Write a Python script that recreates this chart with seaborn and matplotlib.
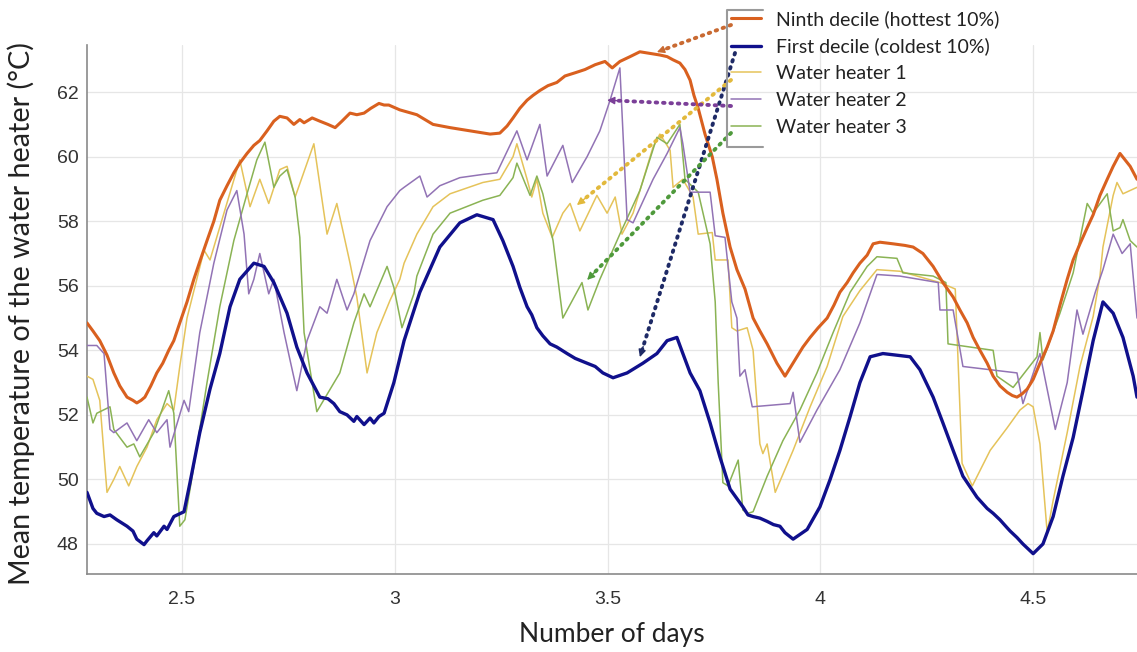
import numpy as np
import pandas as pd
import matplotlib
matplotlib.use("Agg")
import matplotlib.pyplot as plt
from matplotlib.lines import Line2D
import seaborn as sns

# ---------------- data ----------------
ninth_x = [2.277, 2.291, 2.307, 2.324, 2.340, 2.354, 2.371, 2.385, 2.394, 2.404, 2.413, 2.427, 2.441, 2.455,
           2.469, 2.481, 2.495, 2.512, 2.528, 2.542, 2.559, 2.575, 2.589, 2.606, 2.622, 2.636, 2.653, 2.669,
           2.683, 2.700, 2.716, 2.730, 2.747, 2.763, 2.777, 2.787, 2.806, 2.824, 2.843, 2.860, 2.876, 2.895,
           2.911, 2.928, 2.944, 2.963, 2.975, 2.986, 3.012, 3.052, 3.090, 3.130, 3.177, 3.224, 3.247, 3.264,
           3.278, 3.294, 3.311, 3.325, 3.341, 3.360, 3.381, 3.400, 3.424, 3.447, 3.471, 3.494, 3.511, 3.529,
           3.553, 3.576, 3.600, 3.623, 3.640, 3.654, 3.670, 3.682, 3.694, 3.703, 3.713, 3.729, 3.746, 3.757,
           3.771, 3.788, 3.804, 3.823, 3.842, 3.858, 3.875, 3.898, 3.917, 3.931, 3.945, 3.959, 3.976, 3.995,
           4.016, 4.032, 4.046, 4.063, 4.077, 4.093, 4.110, 4.124, 4.140, 4.171, 4.199, 4.218, 4.241, 4.265,
           4.288, 4.312, 4.328, 4.345, 4.359, 4.375, 4.392, 4.406, 4.422, 4.439, 4.451, 4.462, 4.474, 4.486,
           4.500, 4.516, 4.533, 4.547, 4.563, 4.580, 4.594, 4.610, 4.627, 4.641, 4.657, 4.674, 4.688, 4.704,
           4.716, 4.728, 4.744]
ninth_y = [54.85, 54.6, 54.3, 53.85, 53.3, 52.9, 52.55, 52.45, 52.37, 52.45, 52.55, 52.9, 53.3, 53.6,
           54.0, 54.3, 54.85, 55.5, 56.2, 56.75, 57.4, 58.0, 58.65, 59.1, 59.5, 59.8, 60.1, 60.35,
           60.5, 60.8, 61.1, 61.25, 61.2, 61.0, 61.15, 61.05, 61.2, 61.1, 61.0, 60.9, 61.1, 61.35,
           61.3, 61.35, 61.5, 61.65, 61.6, 61.6, 61.45, 61.3, 61.0, 60.9, 60.8, 60.7, 60.73, 60.95,
           61.2, 61.5, 61.75, 61.9, 62.05, 62.2, 62.3, 62.5, 62.6, 62.7, 62.85, 62.95, 62.75, 62.95,
           63.1, 63.25, 63.2, 63.15, 63.1, 63.0, 62.9, 62.7, 62.37, 61.9, 61.5, 60.7, 60.0, 59.3,
           58.25, 57.2, 56.5, 55.9, 55.0, 54.6, 54.2, 53.6, 53.2, 53.5, 53.8, 54.1, 54.4, 54.7,
           55.0, 55.4, 55.8, 56.1, 56.4, 56.7, 56.95, 57.3, 57.35, 57.3, 57.25, 57.2, 57.0, 56.6,
           56.1, 55.65, 55.25, 54.85, 54.4, 54.0, 53.6, 53.2, 52.9, 52.7, 52.6, 52.55, 52.65, 52.8,
           53.1, 53.6, 54.1, 54.6, 55.4, 56.2, 56.8, 57.3, 57.8, 58.2, 58.8, 59.3, 59.7, 60.1,
           59.9, 59.7, 59.3]

first_x = [2.277, 2.291, 2.300, 2.317, 2.331, 2.347, 2.371, 2.385, 2.394, 2.411, 2.418, 2.434, 2.441, 2.458,
           2.465, 2.481, 2.505, 2.519, 2.542, 2.566, 2.589, 2.613, 2.636, 2.669, 2.693, 2.716, 2.747, 2.770,
           2.794, 2.810, 2.824, 2.843, 2.857, 2.871, 2.888, 2.904, 2.911, 2.928, 2.942, 2.951, 2.963, 2.975,
           2.998, 3.022, 3.059, 3.106, 3.153, 3.193, 3.231, 3.254, 3.278, 3.294, 3.311, 3.322, 3.334, 3.348,
           3.365, 3.381, 3.405, 3.424, 3.452, 3.471, 3.489, 3.513, 3.546, 3.583, 3.616, 3.640, 3.663, 3.677,
           3.694, 3.717, 3.741, 3.764, 3.788, 3.818, 3.830, 3.842, 3.858, 3.875, 3.890, 3.905, 3.917, 3.936,
           3.969, 3.999, 4.023, 4.046, 4.070, 4.093, 4.117, 4.147, 4.211, 4.234, 4.265, 4.288, 4.312, 4.335,
           4.368, 4.392, 4.406, 4.422, 4.439, 4.446, 4.462, 4.476, 4.488, 4.500, 4.523, 4.547, 4.570, 4.594,
           4.617, 4.641, 4.664, 4.688, 4.711, 4.735, 4.744]
first_y = [49.6, 49.1, 48.95, 48.85, 48.9, 48.75, 48.55, 48.4, 48.15, 47.98, 48.1, 48.35, 48.25, 48.55,
           48.45, 48.85, 49.0, 49.9, 51.45, 52.8, 53.9, 55.35, 56.2, 56.7, 56.6, 56.1, 55.15, 54.1,
           53.3, 52.9, 52.55, 52.5, 52.35, 52.1, 52.0, 51.8, 51.95, 51.7, 51.9, 51.75, 51.95, 52.05,
           53.0, 54.3, 55.8, 57.2, 57.95, 58.2, 58.05, 57.4, 56.6, 55.95, 55.35, 55.1, 54.7, 54.45,
           54.2, 54.1, 53.9, 53.75, 53.6, 53.5, 53.3, 53.15, 53.3, 53.6, 53.9, 54.3, 54.4, 53.9,
           53.3, 52.75, 51.75, 50.7, 49.7, 49.15, 48.9, 48.85, 48.8, 48.7, 48.6, 48.55, 48.35, 48.15,
           48.45, 49.15, 50.0, 50.9, 51.95, 53.0, 53.8, 53.9, 53.8, 53.4, 52.55, 51.75, 50.9, 50.1,
           49.45, 49.1, 48.95, 48.75, 48.5, 48.4, 48.2, 48.0, 47.85, 47.7, 48.0, 48.85, 50.1, 51.3,
           52.75, 54.3, 55.5, 55.15, 54.4, 53.2, 52.55]

wh1_x = [2.277, 2.291, 2.307, 2.324, 2.340, 2.354, 2.375, 2.394, 2.418, 2.441, 2.465, 2.481, 2.495, 2.512,
         2.552, 2.566, 2.636, 2.660, 2.683, 2.704, 2.730, 2.747, 2.766, 2.810, 2.841, 2.864, 2.895, 2.911,
         2.935, 2.958, 2.989, 3.012, 3.022, 3.052, 3.090, 3.130, 3.207, 3.247, 3.278, 3.287, 3.311, 3.322,
         3.334, 3.348, 3.370, 3.395, 3.412, 3.435, 3.475, 3.499, 3.518, 3.534, 3.560, 3.607, 3.623, 3.647,
         3.654, 3.677, 3.701, 3.713, 3.746, 3.753, 3.783, 3.792, 3.804, 3.828, 3.842, 3.858, 3.865, 3.875,
         3.894, 3.936, 3.976, 4.016, 4.053, 4.093, 4.133, 4.187, 4.281, 4.317, 4.333, 4.357, 4.399, 4.439,
         4.469, 4.488, 4.500, 4.516, 4.533, 4.547, 4.580, 4.610, 4.641, 4.657, 4.664, 4.688, 4.697, 4.711,
         4.744]
wh1_y = [53.2, 53.1, 52.45, 49.6, 50.0, 50.4, 49.8, 50.4, 51.0, 51.85, 52.35, 52.15, 53.5, 55.0,
         57.1, 56.8, 59.9, 58.45, 59.3, 58.55, 59.6, 59.7, 58.75, 60.4, 57.6, 58.55, 56.7, 55.65,
         53.3, 54.55, 55.55, 56.2, 56.7, 57.6, 58.45, 58.85, 59.2, 59.3, 60.0, 60.4, 59.3, 58.75,
         59.3, 58.25, 57.5, 58.25, 58.55, 57.7, 58.8, 58.25, 58.75, 57.6, 58.25, 60.3, 60.7, 60.2,
         59.05, 59.3, 58.75, 57.6, 57.65, 56.8, 56.8, 54.7, 54.6, 54.7, 54.0, 51.1, 50.8, 51.1,
         49.6, 50.9, 52.25, 53.5, 55.05, 55.85, 56.5, 56.45, 56.1, 55.9, 50.5, 49.8, 50.9, 51.6,
         52.15, 52.35, 52.25, 51.1, 48.35, 49.35, 51.45, 53.5, 55.05, 56.3, 57.2, 58.8, 59.2, 58.85,
         59.05]

wh2_x = [2.277, 2.300, 2.317, 2.331, 2.340, 2.371, 2.394, 2.422, 2.441, 2.465, 2.472, 2.505, 2.516, 2.542,
         2.575, 2.606, 2.629, 2.646, 2.657, 2.669, 2.683, 2.704, 2.716, 2.740, 2.754, 2.770, 2.794, 2.824,
         2.841, 2.864, 2.888, 2.904, 2.942, 2.982, 3.012, 3.022, 3.059, 3.076, 3.106, 3.153, 3.207, 3.240,
         3.287, 3.311, 3.341, 3.358, 3.395, 3.417, 3.452, 3.482, 3.506, 3.529, 3.546, 3.560, 3.607, 3.640,
         3.670, 3.677, 3.694, 3.741, 3.753, 3.776, 3.792, 3.804, 3.811, 3.823, 3.840, 3.929, 3.936, 3.952,
         3.992, 4.046, 4.093, 4.133, 4.187, 4.277, 4.281, 4.312, 4.335, 4.462, 4.476, 4.516, 4.552, 4.580,
         4.603, 4.617, 4.646, 4.664, 4.688, 4.709, 4.728, 4.744]
wh2_y = [54.15, 54.15, 53.9, 51.55, 51.45, 51.75, 51.2, 51.85, 51.45, 51.85, 51.0, 52.45, 52.1, 54.55,
         56.7, 58.35, 58.95, 57.6, 55.75, 56.2, 57.0, 55.75, 56.2, 54.55, 53.7, 52.75, 54.3, 55.35,
         55.15, 56.2, 55.25, 55.75, 57.4, 58.45, 58.95, 59.05, 59.4, 58.75, 59.1, 59.35, 59.45, 59.5,
         60.8, 59.9, 61.0, 59.4, 60.35, 59.2, 60.0, 60.8, 61.75, 62.75, 58.05, 57.95, 59.3, 60.1,
         60.9, 60.4, 58.9, 58.9, 57.55, 57.5, 55.5, 55.0, 53.2, 53.4, 52.25, 52.35, 52.7, 51.15,
         52.15, 53.4, 54.85, 56.35, 56.3, 56.1, 55.25, 55.25, 53.5, 53.3, 52.35, 53.9, 51.55, 53.0,
         55.25, 54.5, 55.8, 56.5, 57.6, 57.0, 57.3, 55.0]

wh3_x = [2.277, 2.291, 2.300, 2.331, 2.340, 2.354, 2.371, 2.387, 2.401, 2.434, 2.453, 2.469, 2.481, 2.495,
         2.507, 2.528, 2.559, 2.589, 2.622, 2.653, 2.676, 2.695, 2.716, 2.730, 2.747, 2.766, 2.777, 2.787,
         2.817, 2.871, 2.904, 2.928, 2.942, 2.982, 2.998, 3.017, 3.045, 3.052, 3.090, 3.130, 3.207, 3.247,
         3.278, 3.287, 3.318, 3.334, 3.348, 3.372, 3.395, 3.440, 3.454, 3.482, 3.529, 3.576, 3.616, 3.640,
         3.670, 3.682, 3.713, 3.741, 3.753, 3.760, 3.771, 3.783, 3.807, 3.818, 3.830, 3.842, 3.875, 3.912,
         3.952, 3.992, 4.030, 4.070, 4.110, 4.133, 4.180, 4.194, 4.265, 4.295, 4.300, 4.406, 4.415, 4.453,
         4.509, 4.516, 4.523, 4.563, 4.594, 4.627, 4.641, 4.674, 4.688, 4.704, 4.711, 4.728, 4.744]
wh3_y = [52.55, 51.75, 52.05, 52.25, 51.55, 51.3, 51.0, 51.1, 50.7, 51.45, 52.15, 52.75, 52.05, 48.55,
         48.75, 50.4, 53.0, 55.35, 57.4, 58.85, 59.9, 60.45, 59.05, 59.4, 59.6, 58.75, 57.5, 54.55,
         52.1, 53.3, 54.85, 55.75, 55.35, 56.6, 55.95, 54.7, 55.75, 56.3, 57.6, 58.25, 58.65, 58.8,
         59.35, 59.8, 58.8, 59.4, 58.85, 57.4, 55.0, 56.1, 55.25, 56.2, 57.6, 58.95, 60.6, 60.4,
         61.0, 59.3, 58.9, 57.3, 55.5, 53.0, 49.9, 49.8, 50.6, 49.05, 48.95, 49.0, 50.1, 51.2,
         52.15, 53.3, 54.55, 55.8, 56.6, 56.9, 56.85, 56.4, 56.3, 56.1, 54.2, 54.0, 53.2, 52.85,
         53.8, 54.55, 53.7, 55.15, 56.4, 58.55, 58.25, 58.85, 57.7, 57.8, 58.05, 57.4, 57.2]

series_names = ["Ninth decile (hottest 10%)", "First decile (coldest 10%)",
                "Water heater 1", "Water heater 2", "Water heater 3"]
x_ticks = [2.5, 3, 3.5, 4, 4.5]
y_ticks = [48, 50, 52, 54, 56, 58, 60, 62]
x_label = "Number of days"
y_label = "Mean temperature of the water heater (°C)"

# arrow tips (data coordinates on each curve)
arrow_tip_x = [3.616, 3.576, 3.428, 3.499, 3.452]
arrow_tip_y = [63.24, 53.79, 58.5, 61.75, 56.18]

# ---------------- styling ----------------
colors = ["#D9601F", "#10108C", "#E5C35A", "#9273B5", "#8AB354"]
widths = [2.2, 2.4, 1.1, 1.1, 1.1]
zorders = [5, 6, 3, 4, 3.5]
arrow_colors = ["#C96A32", "#1E2A66", "#E2B93C", "#7B3F98", "#4F9A3C"]
# legend-line start points (figure pixels from top-left) where the dotted arrows begin
arrow_tail_px = [(731, 25), (735, 53), (731, 80), (731, 106), (731, 133)]

W, H = 1137, 652
sns.set_theme(style="whitegrid")
plt.rcParams["font.family"] = ["Lato", "DejaVu Sans"]

fig = plt.figure(figsize=(W / 100, H / 100), dpi=100)
ax = fig.add_axes([87 / W, (H - 574) / H, (W - 87) / W, (574 - 45) / H])

xs = [ninth_x, first_x, wh1_x, wh2_x, wh3_x]
ys = [ninth_y, first_y, wh1_y, wh2_y, wh3_y]
handles = []
for name, xv, yv, c, lw, z in zip(series_names, xs, ys, colors, widths, zorders):
    df = pd.DataFrame({"day": xv, "temp": yv})
    sns.lineplot(data=df, x="day", y="temp", ax=ax, color=c, linewidth=lw,
                 estimator=None, sort=False, zorder=z)
    handles.append(Line2D([0], [0], color=c, linewidth=lw))

ax.set_xlim(2.277, 4.744)
ax.set_ylim(47.07, 63.46)
ax.set_xticks(x_ticks)
ax.set_xticklabels([f"{t:g}" for t in x_ticks])
ax.set_yticks(y_ticks)
ax.set_facecolor("white")
ax.grid(True, color="#e6e6e6", linewidth=0.9)
for s in ["top", "right"]:
    ax.spines[s].set_visible(False)
for s in ["left", "bottom"]:
    ax.spines[s].set_visible(True)
    ax.spines[s].set_color("#8a8a8a")
    ax.spines[s].set_linewidth(1.2)
ax.tick_params(axis="both", direction="in", length=5, width=1, color="#8a8a8a",
               labelsize=14, labelcolor="#333333")
ax.tick_params(axis="x", pad=12)
ax.tick_params(axis="y", pad=6)
for lab in ax.get_xticklabels() + ax.get_yticklabels():
    lab.set_fontfamily(["Liberation Sans", "DejaVu Sans"])
ax.set_xlabel(x_label, fontsize=19, color="#222222", labelpad=10)
ax.set_ylabel(y_label, fontsize=20.7, color="#222222")
ax.yaxis.set_label_coords(-0.0495, 0.492)

# dotted pointer arrows from the legend to the curves
inv = ax.transData.inverted()
for (tx, ty), hx, hy, c in zip(arrow_tail_px, arrow_tip_x, arrow_tip_y, arrow_colors):
    tail_disp = np.array([tx, H - ty], dtype=float)
    tip_disp = ax.transData.transform((hx, hy))
    u = (tail_disp - tip_disp) / np.hypot(*(tail_disp - tip_disp))
    tail_data = inv.transform(tail_disp)
    neck_data = inv.transform(tip_disp + 6 * u)
    back_data = inv.transform(tip_disp + 11 * u)
    ax.annotate("", xy=neck_data, xycoords="data", xytext=tail_data, textcoords="data",
                arrowprops=dict(arrowstyle="-", linestyle=(0, (0.4, 1.5)), lw=2.8,
                                color=c, shrinkA=0, shrinkB=0, capstyle="round"),
                zorder=8, annotation_clip=False)
    ax.annotate("", xy=(hx, hy), xycoords="data", xytext=back_data, textcoords="data",
                arrowprops=dict(arrowstyle="-|>", lw=1.0, color=c, mutation_scale=11,
                                shrinkA=0, shrinkB=0),
                zorder=8, annotation_clip=False)

# legend
leg = fig.legend(handles, series_names, loc="upper left",
                 bbox_to_anchor=(731 / W, 1 - 10 / H), bbox_transform=fig.transFigure,
                 frameon=False, fontsize=14, handlelength=1.55, handletextpad=0.75,
                 labelspacing=0.5, borderpad=0, borderaxespad=0)
for t in leg.get_texts():
    t.set_color("#222222")

# bracket-shaped legend box
bx = [763, 727, 727, 763]
by = [10, 10, 147, 147]
fig.add_artist(Line2D([v / W for v in bx], [1 - v / H for v in by],
                      transform=fig.transFigure, color="#9a9a9a", linewidth=1.5))

fig.savefig("out.png", dpi=100)
